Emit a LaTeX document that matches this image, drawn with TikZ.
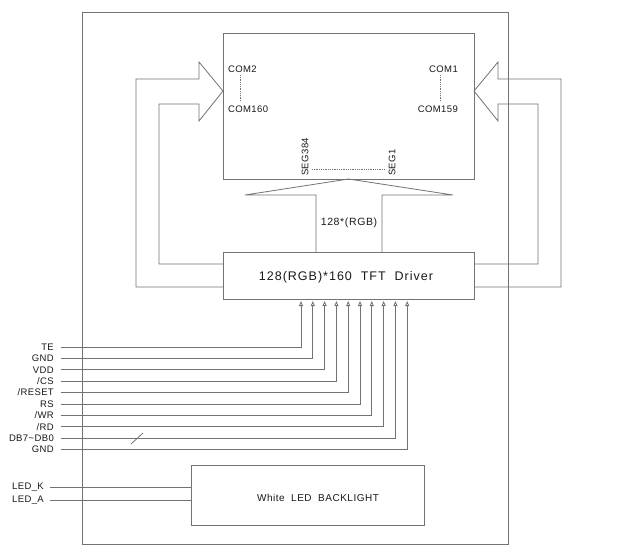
\documentclass[tikz,border=0pt]{standalone}
\usepackage{fontspec}
\setmainfont{Liberation Sans}
\usetikzlibrary{arrows.meta,calc}
\begin{document}
\begin{tikzpicture}[x=1pt,y=-1pt,
  ln/.style={draw=black!55,line width=0.8pt},
  box/.style={ln,rectangle,inner sep=0pt,outer sep=0pt,anchor=north west},
  lbl/.style={font=\fontsize{9.5}{10}\selectfont\addfontfeature{LetterSpace=4},text=black!90,inner sep=0pt},
  sigtip/.style={-{Triangle[open,length=5pt,width=4pt]}}
]
\useasboundingbox[fill=white] (0,0) rectangle (633,552);
% frames
\node[box,minimum width=426pt,minimum height=532pt] (frame) at (82,12) {};
\node[box,minimum width=251pt,minimum height=146pt] (lcd) at (223,33) {};
\node[box,minimum width=251pt,minimum height=47pt] (drv) at (223,252) {};
\node[box,minimum width=233pt,minimum height=60pt] (bl) at (191,465) {};
\node[font=\fontsize{12.5}{13}\selectfont\addfontfeature{LetterSpace=8},text=black!90] (drvtxt) at (346,277) {128(RGB)*160\ \ TFT\ \ Driver};
\node[font=\fontsize{10}{11}\selectfont\addfontfeature{LetterSpace=5},text=black!90] (bltxt) at (318,498) {White\ \ LED\ \ BACKLIGHT};
% COM labels
\node[lbl,anchor=west] (com2) at (228,69) {COM2};
\node[lbl,anchor=west] (com160) at (228,109) {COM160};
\node[lbl,anchor=east] (com1) at (458,69) {COM1};
\node[lbl,anchor=east] (com159) at (458,109) {COM159};
\draw[ln,densely dotted,line width=0.5pt] (240,75) -- (240,102);
\draw[ln,densely dotted,line width=0.5pt] (440,75) -- (440,102);
% SEG labels
\node[lbl,rotate=90,anchor=west] (seg384) at (305,176) {SEG384};
\node[lbl,rotate=90,anchor=west] (seg1) at (392,176) {SEG1};
\draw[ln,densely dotted,line width=0.5pt] (312,169) -- (385,169);
% left big arrow
\draw[ln] ($(drv.south west)+(0,-12)$) -- (136,287) -- (136,79) -- (199,79) -- (199,62)
  -- ($(lcd.north west)+(0,58)$) -- (199,121) -- (199,104) -- (159,104) -- (159,264)
  -- ($(drv.north west)+(0,12)$);
% right big arrow
\draw[ln] ($(drv.south east)+(0,-12)$) -- (561,287) -- (561,79) -- (498,79) -- (498,62)
  -- ($(lcd.north east)+(0,58)$) -- (498,121) -- (498,104) -- (538,104) -- (538,264)
  -- ($(drv.north east)+(0,12)$);
% up arrow
\draw[ln] (316,252) -- (316,195) -- (245,195) -- (lcd.south) -- (453,195) -- (382,195) -- (382,252);
\node[lbl,font=\fontsize{10.5}{11}\selectfont\addfontfeature{LetterSpace=6},anchor=center] (rgb) at (349,223) {128*(RGB)};
% signals
\foreach \lab [count=\i from 0] in {TE,GND,VDD,{/CS},{/RESET},RS,{/WR},{/RD},{DB7\textasciitilde DB0},GND}{
  \node[lbl,anchor=east] (s\i) at (54,{347+11.4*\i}) {\lab};
  \draw[ln,sigtip] ($(s\i.east)+(7,0)$) -| ($(drv.south west)+({78+11.8*\i},2)$);
}
\draw[ln] (131,444) -- (143,433);
% backlight
\node[lbl,anchor=east] (ledk) at (44,487) {LED\_K};
\node[lbl,anchor=east] (leda) at (44,500) {LED\_A};
\draw[ln] ($(ledk.east)+(6,0)$) -- (ledk.east -| bl.west);
\draw[ln] ($(leda.east)+(6,0)$) -- (leda.east -| bl.west);
\end{tikzpicture}
\end{document}
